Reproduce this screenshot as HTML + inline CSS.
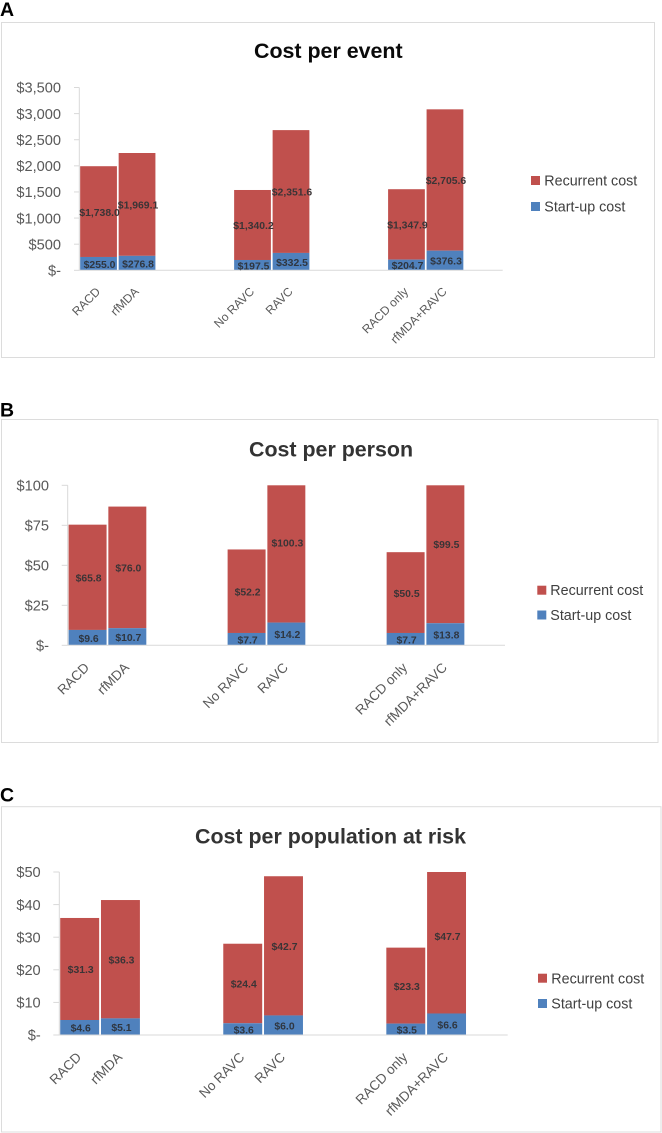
<!DOCTYPE html>
<html lang="en">
<head>
<meta charset="utf-8">
<title>Cost charts</title>
<style>
html,body{margin:0;padding:0;background:#fff;width:662px;height:1133px;overflow:hidden}
svg{display:block;position:absolute;left:0;top:0;filter:blur(.3px)}
text{font-family:"Liberation Sans",Arial,sans-serif}
.letter{font-size:19.5px;font-weight:700;fill:#000}
.title{font-weight:700}
.legend-text{font-size:14.3px;fill:#404040}
</style>
</head>
<body>
<svg id="figure" width="662" height="1133" viewBox="0 0 662 1133" xmlns="http://www.w3.org/2000/svg">
  <rect width="662" height="1133" fill="#fff"/>

  <text class="letter" x="0" y="16">A</text>
  <rect x="1.5" y="22.5" width="653" height="335" fill="#fff" stroke="#dcdcdc" stroke-width="1"/>
  <text class="title" x="254" y="58" font-size="21.4" fill="#0a0a0a">Cost per event</text>
  <g id="chart-a"></g>
  <rect x="531" y="176" width="9" height="9" fill="#c0504d"/>
  <text class="legend-text" x="544.3" y="185.5">Recurrent cost</text>
  <rect x="531" y="202" width="9" height="9" fill="#4f81bd"/>
  <text class="legend-text" x="544.3" y="211.5">Start-up cost</text>

  <text class="letter" x="0" y="416.7">B</text>
  <rect x="1.5" y="419.5" width="656.5" height="323" fill="#fff" stroke="#dcdcdc" stroke-width="1"/>
  <text class="title" x="249" y="456.7" font-size="21.4" fill="#333">Cost per person</text>
  <g id="chart-b"></g>
  <rect x="537.3" y="585.7" width="9" height="9" fill="#c0504d"/>
  <text class="legend-text" x="550.3" y="595.2">Recurrent cost</text>
  <rect x="537.3" y="610.5" width="9" height="9" fill="#4f81bd"/>
  <text class="legend-text" x="550.3" y="620.2">Start-up cost</text>

  <text class="letter" x="0" y="801.7">C</text>
  <rect x="1.5" y="806.7" width="659.5" height="325.3" fill="#fff" stroke="#dcdcdc" stroke-width="1"/>
  <text class="title" x="195" y="843.3" font-size="21.4" fill="#333">Cost per population at risk</text>
  <g id="chart-c"></g>
  <rect x="538" y="973.7" width="9" height="9" fill="#c0504d"/>
  <text class="legend-text" x="551.3" y="983.5">Recurrent cost</text>
  <rect x="538" y="999" width="9" height="9" fill="#4f81bd"/>
  <text class="legend-text" x="551.3" y="1008.5">Start-up cost</text>
</svg>

<script>
var categories = ['RACD', 'rfMDA', '', '', 'No RAVC', 'RAVC', '', '', 'RACD only', 'rfMDA+RAVC', ''];

var startupA = [255.0, 276.8, null, null, 197.5, 332.5, null, null, 204.7, 376.3, null];
var recurrentA = [1738.0, 1969.1, null, null, 1340.2, 2351.6, null, null, 1347.9, 2705.6, null];
var tickValuesA = [0, 500, 1000, 1500, 2000, 2500, 3000, 3500];
var tickLabelsA = ['$-', '$500', '$1,000', '$1,500', '$2,000', '$2,500', '$3,000', '$3,500'];

var startupB = [9.6, 10.7, null, null, 7.7, 14.2, null, null, 7.7, 13.8, null];
var recurrentB = [65.8, 76.0, null, null, 52.2, 100.3, null, null, 50.5, 99.5, null];
var tickValuesB = [0, 25, 50, 75, 100];
var tickLabelsB = ['$-', '$25', '$50', '$75', '$100'];

var startupC = [4.6, 5.1, null, null, 3.6, 6.0, null, null, 3.5, 6.6, null];
var recurrentC = [31.3, 36.3, null, null, 24.4, 42.7, null, null, 23.3, 47.7, null];
var tickValuesC = [0, 10, 20, 30, 40, 50];
var tickLabelsC = ['$-', '$10', '$20', '$30', '$40', '$50'];

var SVG_NS = 'http://www.w3.org/2000/svg';

function make(tag, attrs, parent) {
  var el = document.createElementNS(SVG_NS, tag);
  for (var k in attrs) { el.setAttribute(k, attrs[k]); }
  parent.appendChild(el);
  return el;
}

function money(v) {
  return '$' + v.toFixed(1).replace(/\B(?=(\d{3})+(?!\d))/, ',');
}

function drawChart(cfg) {
  var g = document.getElementById(cfg.id);
  var maxValue = cfg.tickValues[cfg.tickValues.length - 1];
  var slot = (cfg.right - cfg.left) / categories.length;
  function xScale(i) { return cfg.left + (i + 0.5) * slot; }
  function yScale(v) { return cfg.zero - (Math.min(v, maxValue) / maxValue) * (cfg.zero - cfg.top); }
  function yRaw(v) { return cfg.zero - (v / maxValue) * (cfg.zero - cfg.top); }
  var barWidth = slot * 0.955;

  categories.forEach(function (cat, i) {
    if (cfg.startup[i] === null) { return; }
    var s = cfg.startup[i];
    var r = cfg.recurrent[i];
    var x = xScale(i) - barWidth / 2;

    var redBar = make('rect', { x: x, y: yScale(s + r), width: barWidth, height: yScale(s) - yScale(s + r), fill: '#c0504d' }, g);
    
    

    var blueBar = make('rect', { x: x, y: yScale(s), width: barWidth, height: yScale(0) - yScale(s), fill: '#4f81bd' }, g);
    
    
  });

  var yAxis = make('line', { x1: cfg.left, x2: cfg.left, y1: cfg.top, y2: cfg.zero, stroke: '#d9d9d9', 'stroke-width': 1 }, g);
  
  

  var xAxis = make('line', { x1: cfg.left, x2: cfg.right, y1: cfg.zero, y2: cfg.zero, stroke: '#d9d9d9', 'stroke-width': 1 }, g);
  
  

  cfg.tickValues.forEach(function (v, i) {
    var y = yScale(v);
    var tick = make('line', { x1: cfg.tickStart, x2: cfg.left, y1: y, y2: y, stroke: '#d9d9d9', 'stroke-width': 1 }, g);
    
    

    var label = make('text', { x: cfg.labelRight, y: y + 5.2, 'text-anchor': 'end', 'font-size': 14.6, fill: '#595959' }, g);
    label.textContent = cfg.tickLabels[i];
    
    
  });

  categories.forEach(function (cat, i) {
    if (cfg.startup[i] === null) { return; }
    var s = cfg.startup[i];
    var r = cfg.recurrent[i];
    var cx = xScale(i) + 1;

    var redText = make('text', { x: cx, y: yRaw(s + r / 2) + 4.2, 'text-anchor': 'middle', 'font-size': 10.4, 'font-weight': 700, fill: '#3a3436' }, g);
    redText.textContent = money(r);
    
    

    var blueText = make('text', { x: cx, y: yRaw(s / 2) + 4.2, 'text-anchor': 'middle', 'font-size': 10.4, 'font-weight': 700, fill: '#2f3640' }, g);
    blueText.textContent = money(s);
    
    

    var ax = xScale(i) + 2.5;
    var ay = cfg.zero + cfg.catDrop;
    var catText = make('text', { x: ax, y: ay, 'text-anchor': 'end', 'font-size': cfg.catSize, fill: '#595959', transform: 'rotate(-45 ' + ax + ' ' + ay + ')' }, g);
    catText.textContent = cat;
    
    
  });
}

drawChart({ id: 'chart-a', left: 79.3, right: 502.7, top: 87.5, zero: 270.3, tickStart: 74, labelRight: 61, catSize: 12, catDrop: 22,
  startup: startupA, recurrent: recurrentA, tickValues: tickValuesA, tickLabels: tickLabelsA });
drawChart({ id: 'chart-b', left: 67.7, right: 505, top: 485.3, zero: 645.3, tickStart: 61.7, labelRight: 49, catSize: 13.5, catDrop: 23,
  startup: startupB, recurrent: recurrentB, tickValues: tickValuesB, tickLabels: tickLabelsB });
drawChart({ id: 'chart-c', left: 59.3, right: 507.7, top: 872, zero: 1035, tickStart: 53.3, labelRight: 40.7, catSize: 13.5, catDrop: 23,
  startup: startupC, recurrent: recurrentC, tickValues: tickValuesC, tickLabels: tickLabelsC });
</script>
</body>
</html>
